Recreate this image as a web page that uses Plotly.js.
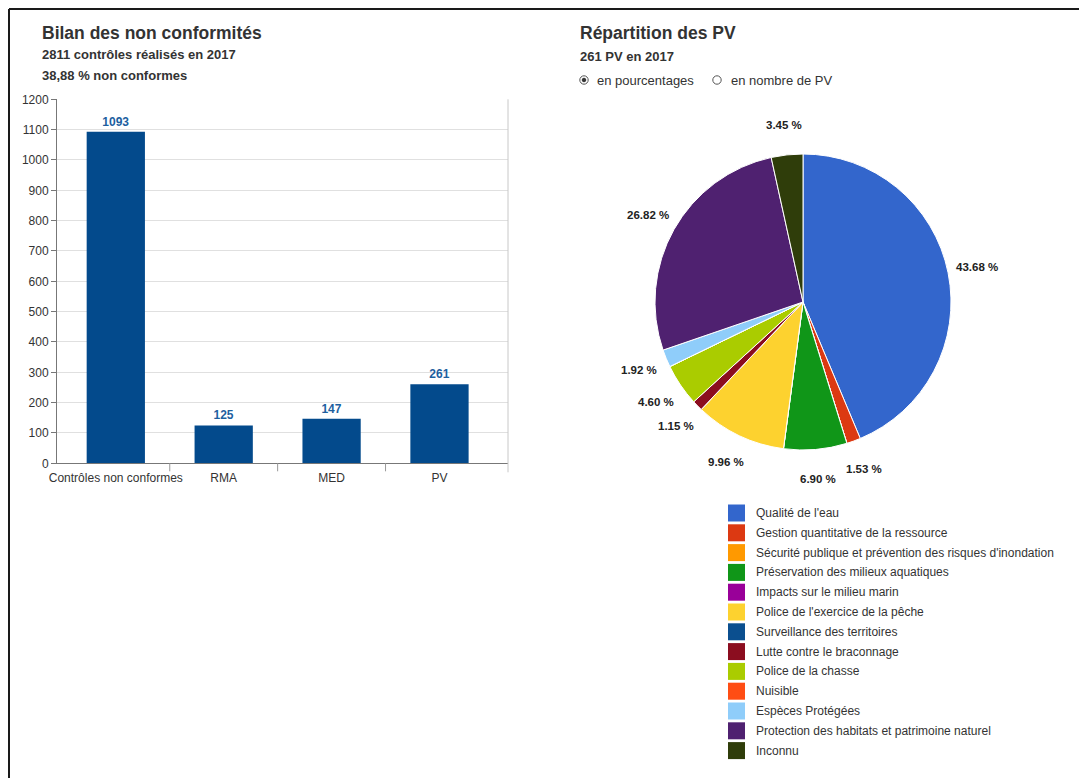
<!DOCTYPE html>
<html>
<head>
<meta charset="utf-8">
<script src="https://cdn.plot.ly/plotly-3.0.1.min.js"></script>
<style>
  html, body { margin: 0; padding: 0; background: #fff; }
  #chart { width: 1079px; height: 778px; }
</style>
</head>
<body>
<div id="chart"></div>
<script>
// ---------- Data ----------
const barCategories = ['Contrôles non conformes', 'RMA', 'MED', 'PV'];
const barValues = [1093, 125, 147, 261];

const pvLabels = [
  "Qualité de l'eau",
  "Gestion quantitative de la ressource",
  "Sécurité publique et prévention des risques d'inondation",
  "Préservation des milieux aquatiques",
  "Impacts sur le milieu marin",
  "Police de l'exercice de la pêche",
  "Surveillance des territoires",
  "Lutte contre le braconnage",
  "Police de la chasse",
  "Nuisible",
  "Espèces Protégées",
  "Protection des habitats et patrimoine naturel",
  "Inconnu"
];
const pvCounts = [114, 4, 0, 18, 0, 26, 0, 3, 12, 0, 5, 70, 9];
const pvColors = [
  '#3366cc', '#dc3912', '#ff9900', '#109618', '#990099', '#fdd22f',
  '#0b4f8f', '#8b0d1f', '#aacc00', '#ff4d14', '#8fcdfa', '#4f2170', '#2f3d0a'
];

const titleLeft = 'Bilan des non conformités';
const subLeft1 = '2811 contrôles réalisés en 2017';
const subLeft2 = '38,88 % non conformes';
const titleRight = 'Répartition des PV';
const subRight = '261 PV en 2017';
const radio1 = 'en pourcentages';
const radio2 = 'en nombre de PV';

// ---------- Layout helpers ----------
const W = 1079, H = 778;
const px = x => x / W;
const py = y => 1 - y / H;
const FONT = 'Liberation Sans, Arial, sans-serif';
const TXT = '#333333';

// bar plot area (pixels)
const barLeft = 57, barRight = 508, barTop = 99.3, barBottom = 463.3;
// pie geometry (pixels)
const pieCx = 803, pieCy = 302, pieR = 148;

const traces = [];
traces.push({
  type: 'bar',
  x: barCategories,
  y: barValues,
  width: 0.54,
  marker: { color: '#034a8c' },
  texttemplate: '<b>%{y}</b>',
  textposition: 'outside',
  textfont: { family: FONT, size: 12, color: '#1d5f9f' },
  cliponaxis: false,
  hoverinfo: 'x+y',
  xaxis: 'x', yaxis: 'y',
  showlegend: false
});
traces.push({
  type: 'pie',
  labels: pvLabels,
  values: pvCounts,
  marker: { colors: pvColors, line: { color: '#ffffff', width: 1 } },
  sort: false,
  direction: 'clockwise',
  rotation: 0,
  textinfo: 'none',
  hoverinfo: 'label+value+percent',
  showlegend: false,
  domain: {
    x: [px(pieCx - pieR), px(pieCx + pieR)],
    y: [py(pieCy + pieR), py(pieCy - pieR)]
  }
});

const annotations = [];
const shapes = [];
function addText(text, x, y, size, bold, anchor) {
  annotations.push({
    text: bold ? '<b>' + text + '</b>' : text,
    xref: 'paper', yref: 'paper',
    x: px(x), y: py(y),
    xanchor: anchor || 'left', yanchor: 'middle',
    showarrow: false,
    font: { family: FONT, size: size, color: TXT }
  });
}
addText(titleLeft, 40, 33, 17.5, true);
addText(subLeft1, 40, 55, 13, true);
addText(subLeft2, 40, 75, 13, true);
addText(titleRight, 578, 33, 17.5, true);
addText(subRight, 578, 56, 13, true);
addText(radio1, 595, 80, 13, false);
addText(radio2, 729, 80, 13, false);

// radio buttons
function circle(cx, cy, r, fill, line) {
  shapes.push({
    type: 'circle', xref: 'paper', yref: 'paper',
    x0: px(cx - r), x1: px(cx + r), y0: py(cy + r), y1: py(cy - r),
    fillcolor: fill, line: { color: line, width: 1 }
  });
}
circle(584, 80, 4.2, '#ffffff', '#555555');
circle(584, 80, 1.8, '#333333', '#333333');
circle(717, 80, 4.2, '#ffffff', '#555555');

// frame
shapes.push({ type: 'line', xref: 'paper', yref: 'paper', x0: px(9), x1: 1, y0: py(9), y1: py(9), line: { color: '#1a1a1a', width: 2 } });
shapes.push({ type: 'line', xref: 'paper', yref: 'paper', x0: px(9), x1: px(9), y0: py(9), y1: 0, line: { color: '#1a1a1a', width: 2 } });

// right border of bar plot
shapes.push({ type: 'line', xref: 'x domain', yref: 'paper', x0: 1, x1: 1, y0: py(barTop), y1: py(barBottom + 9), line: { color: '#c8c8c8', width: 1 } });

// category separator ticks (between categories)
for (let i = 1; i < barCategories.length; i++) {
  shapes.push({
    type: 'line', xref: 'x', yref: 'paper',
    x0: i - 0.5, x1: i - 0.5, y0: py(barBottom), y1: py(barBottom + 8),
    line: { color: '#999999', width: 1 }
  });
}

// pie percentage labels (computed from data)
const total = pvCounts.reduce((a, b) => a + b, 0);
let cum = 0;
pvCounts.forEach((c, i) => {
  if (c > 0) {
    const mid = (cum + c / 2) / total * 2 * Math.PI;
    const lx = pieCx + 1.2 * pieR * Math.sin(mid);
    const ly = pieCy - 1.2 * pieR * Math.cos(mid);
    annotations.push({
      text: '<b>' + (c / total * 100).toFixed(2) + ' %</b>',
      xref: 'paper', yref: 'paper', x: px(lx), y: py(ly),
      xanchor: 'center', yanchor: 'middle', showarrow: false,
      font: { family: FONT, size: 11.5, color: '#222222' }
    });
  }
  cum += c;
});

// legend (built from labels & colors)
const legX = 728, legY0 = 513, legStep = 19.8, sw = 17;
pvLabels.forEach((lab, i) => {
  const cy = legY0 + i * legStep;
  shapes.push({
    type: 'rect', xref: 'paper', yref: 'paper',
    x0: px(legX), x1: px(legX + sw), y0: py(cy + sw / 2), y1: py(cy - sw / 2),
    fillcolor: pvColors[i], line: { width: 0 }
  });
  annotations.push({
    text: lab, xref: 'paper', yref: 'paper', x: px(legX + 26), y: py(cy),
    xanchor: 'left', yanchor: 'middle', showarrow: false,
    font: { family: FONT, size: 12, color: TXT }
  });
});

const layout = {
  width: W, height: H,
  margin: { l: 0, r: 0, t: 0, b: 0 },
  paper_bgcolor: '#ffffff',
  plot_bgcolor: '#ffffff',
  font: { family: FONT, size: 12, color: TXT },
  xaxis: {
    domain: [px(barLeft), px(barRight)],
    type: 'category',
    range: [-0.545, 3.635],
    showline: true, linecolor: '#777777', linewidth: 1,
    ticks: 'outside', ticklen: 3, tickcolor: 'rgba(0,0,0,0)',
    tickangle: 0,
    showgrid: false, zeroline: false,
    tickfont: { family: FONT, size: 12, color: TXT },
    fixedrange: true
  },
  yaxis: {
    domain: [py(barBottom), py(barTop)],
    range: [0, 1200], dtick: 100,
    showline: true, linecolor: '#777777', linewidth: 1,
    ticks: 'outside', ticklen: 5, tickcolor: '#777777',
    showgrid: true, gridcolor: '#e0e0e0', zeroline: false,
    tickfont: { family: FONT, size: 12, color: TXT },
    fixedrange: true
  },
  showlegend: false,
  annotations: annotations,
  shapes: shapes
};

Plotly.newPlot('chart', traces, layout, { displayModeBar: false, staticPlot: true });
</script>
</body>
</html>
